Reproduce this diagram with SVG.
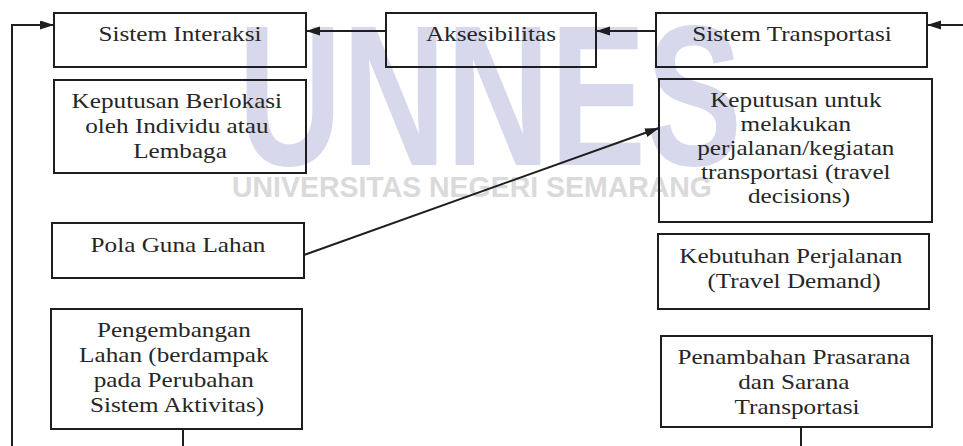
<svg xmlns="http://www.w3.org/2000/svg" width="963" height="446" viewBox="0 0 963 446">
<style>
.box{fill:none;stroke:#1e1e1e;stroke-width:2}
.lbl{font-family:"Liberation Serif","Times New Roman",serif;font-size:20px;fill:#262626;text-anchor:middle}
.con{fill:none;stroke:#1e1e1e;stroke-width:2}
.wm{font-family:"Liberation Sans",Arial,sans-serif;font-weight:bold;font-size:200px;fill:#d8d8ec}
.wm2{font-family:"Liberation Sans",Arial,sans-serif;font-weight:bold;font-size:30px;fill:#dadada}
</style>
<defs>
<marker id="ah" markerUnits="userSpaceOnUse" markerWidth="15" markerHeight="10" refX="14" refY="4.5" orient="auto">
<path d="M0,0 L14,4.5 L0,9 z" fill="#1e1e1e"/>
</marker>
</defs>
<rect width="963" height="446" fill="#ffffff"/>
<g id="watermark">
<text class="wm" transform="translate(238,165) scale(0.72,1)" x="0" y="0">UNNES</text>
<text class="wm2" x="232" y="197" textLength="480" lengthAdjust="spacingAndGlyphs">UNIVERSITAS NEGERI SEMARANG</text>
</g>
<g id="connectors">
<path class="con" d="M12,446 V25 H54" marker-end="url(#ah)"/>
<path class="con" d="M963,25 H927" marker-end="url(#ah)"/>
<path class="con" d="M386,31 H306" marker-end="url(#ah)"/>
<path class="con" d="M656,31 H596" marker-end="url(#ah)"/>
<path class="con" d="M304,255 L659,128" marker-end="url(#ah)"/>
<path class="con" d="M183,429 V446"/>
<path class="con" d="M801,427 V446"/>
</g>
<g id="sistem-interaksi">
<rect class="box" x="54" y="13" width="252" height="54"/>
<text class="lbl" transform="translate(180,0) scale(1.26,1)" x="0" y="41">Sistem Interaksi</text>
</g>
<g id="aksesibilitas">
<rect class="box" x="386" y="13" width="210" height="54"/>
<text class="lbl" transform="translate(491,0) scale(1.26,1)" x="0" y="41">Aksesibilitas</text>
</g>
<g id="sistem-transportasi">
<rect class="box" x="656" y="13" width="271" height="54"/>
<text class="lbl" transform="translate(792,0) scale(1.26,1)" x="0" y="41">Sistem Transportasi</text>
</g>
<g id="keputusan-berlokasi">
<rect class="box" x="54" y="80" width="252" height="93"/>
<text class="lbl" transform="translate(180,0) scale(1.26,1)">
<tspan x="0" y="108">Keputusan Berlokasi</tspan>
<tspan x="0" y="133">oleh Individu atau</tspan>
<tspan x="0" y="158">Lembaga</tspan>
</text>
</g>
<g id="keputusan-perjalanan">
<rect class="box" x="659" y="79" width="273" height="143"/>
<text class="lbl" transform="translate(799,0) scale(1.26,1)">
<tspan x="0" y="107">Keputusan untuk</tspan>
<tspan x="0" y="131">melakukan</tspan>
<tspan x="0" y="155">perjalanan/kegiatan</tspan>
<tspan x="0" y="179">transportasi (travel</tspan>
<tspan x="0" y="203">decisions)</tspan>
</text>
</g>
<g id="pola-guna-lahan">
<rect class="box" x="52" y="223" width="252" height="55"/>
<text class="lbl" transform="translate(178,0) scale(1.26,1)" x="0" y="252">Pola Guna Lahan</text>
</g>
<g id="kebutuhan-perjalanan">
<rect class="box" x="658" y="234" width="271" height="75"/>
<text class="lbl" transform="translate(794,0) scale(1.26,1)">
<tspan x="0" y="263">Kebutuhan Perjalanan</tspan>
<tspan x="0" y="288">(Travel Demand)</tspan>
</text>
</g>
<g id="pengembangan-lahan">
<rect class="box" x="51" y="309" width="251" height="120"/>
<text class="lbl" transform="translate(177,0) scale(1.26,1)">
<tspan x="0" y="337">Pengembangan</tspan>
<tspan x="0" y="362">Lahan (berdampak</tspan>
<tspan x="0" y="387">pada Perubahan</tspan>
<tspan x="0" y="412">Sistem Aktivitas)</tspan>
</text>
</g>
<g id="penambahan-prasarana">
<rect class="box" x="661" y="336" width="271" height="91"/>
<text class="lbl" transform="translate(797,0) scale(1.26,1)">
<tspan x="0" y="364">Penambahan Prasarana</tspan>
<tspan x="0" y="389">dan Sarana</tspan>
<tspan x="0" y="414">Transportasi</tspan>
</text>
</g>
</svg>
